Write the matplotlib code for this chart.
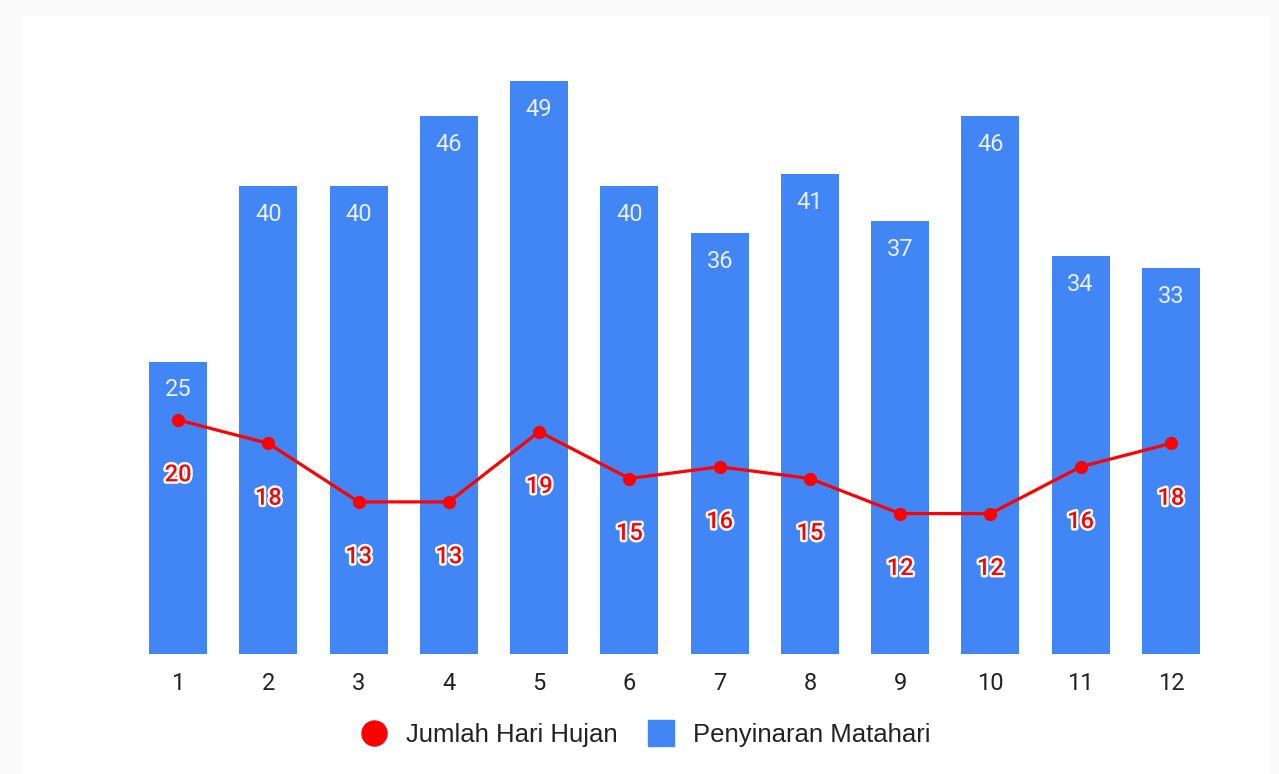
import numpy as np
import matplotlib.pyplot as plt
import matplotlib.patheffects as pe
from matplotlib.patches import Rectangle
from matplotlib.lines import Line2D

plt.rcParams['font.family'] = ['Roboto', 'DejaVu Sans']

# data
bulan = ['1', '2', '3', '4', '5', '6', '7', '8', '9', '10', '11', '12']
penyinaran = [25, 40, 40, 46, 49, 40, 36, 41, 37, 46, 34, 33]
hujan = [20, 18, 13, 13, 19, 15, 16, 15, 12, 12, 16, 18]

biru = '#4285F4'
merah = '#FF0000'

fig = plt.figure(figsize=(12.79, 7.74), dpi=100, facecolor='#fafafa')
# white card behind the chart
fig.patches.append(Rectangle((22/1279, 0), (1271-22)/1279, 1-16/774,
                             transform=fig.transFigure, facecolor='white',
                             edgecolor='none', zorder=-5))

ymax = 52
pxu = 11.7
bottom = (774-654)/774
height = ymax*pxu/774
ax = fig.add_axes([133/1279, bottom, 1083/1279, height])
ax.set_facecolor('none')
ax.set_zorder(2)

x = np.arange(1, len(bulan)+1)
ax.bar(x, penyinaran, width=0.64, color=biru, zorder=2)
ax.plot(x, hujan, color=merah, lw=2.3, marker='o', ms=8.5, zorder=3)

for xi, v in zip(x, penyinaran):
    ax.annotate(str(v), (xi, v), xytext=(0, -20.5), textcoords='offset points',
                ha='center', va='center', color='#e8effd', fontsize=17, zorder=4)

for xi, v in zip(x, hujan):
    ax.annotate(str(v), (xi, v), xytext=(0, -39.5), textcoords='offset points',
                ha='center', va='center', color=merah, fontsize=17,
                fontweight='medium', zorder=4,
                path_effects=[pe.withStroke(linewidth=3.5, foreground='white')])

ax.set_xlim(0.5, 12.5)
ax.set_ylim(0, ymax)
ax.set_xticks(x)
ax.set_xticklabels(bulan, fontsize=17, color='#222222')
ax.tick_params(axis='x', length=0, pad=13)
ax.set_yticks([])
for s in ax.spines.values():
    s.set_visible(False)

handles = [Line2D([], [], color=merah, marker='o', ls='none', ms=18),
           Line2D([], [], color=biru, marker='s', ls='none', ms=19)]
leg = fig.legend(handles, ['Jumlah Hari Hujan', 'Penyinaran Matahari'],
                 loc='center', bbox_to_anchor=(0.505, 1-735/774), ncol=2,
                 frameon=False, labelcolor='#222222',
                 prop={'family': 'Liberation Sans', 'size': 18.5},
                 handlelength=1.0, handletextpad=0.75, columnspacing=1.2)

fig.savefig('out.png', dpi=100, facecolor=fig.get_facecolor())
